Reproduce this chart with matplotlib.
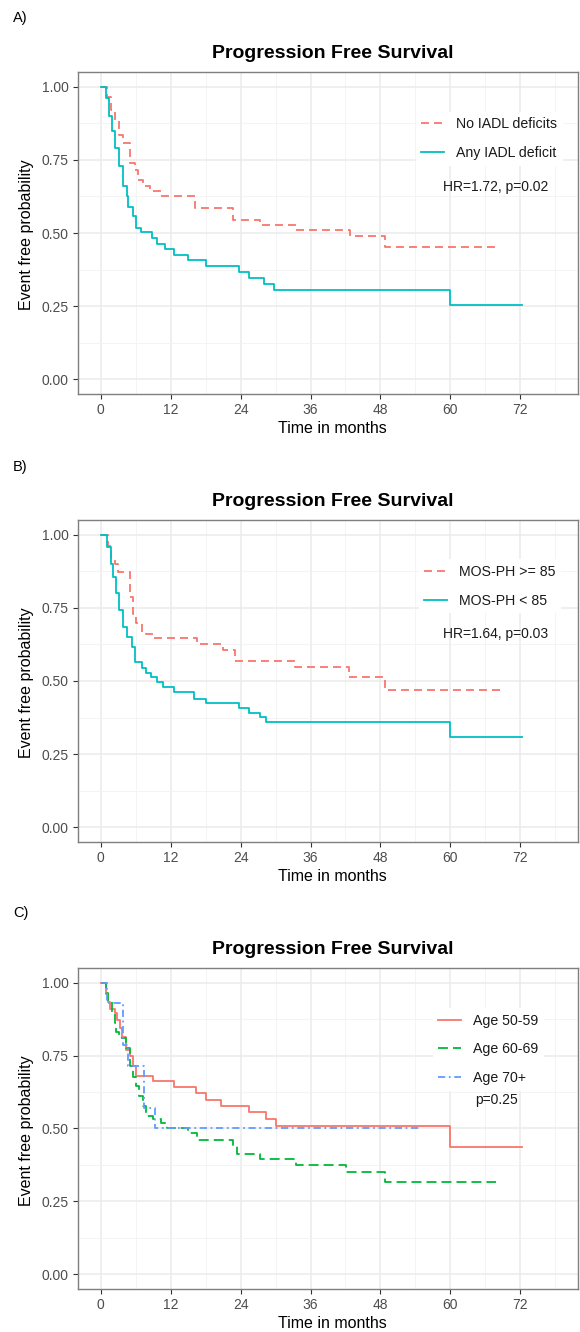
import matplotlib.pyplot as plt
import numpy as np

plt.rcParams['font.family'] = ['Liberation Sans', 'DejaVu Sans']

# ---- data (months, survival prob) ----
# A) IADL
no_iadl_t = [0, 1.0, 1.8, 2.4, 3.2, 3.9, 5.0, 5.8, 6.4, 7.3, 8.4, 10.4, 16.1,
             22.7, 27.3, 33.5, 42.7, 48.7, 68.4]
no_iadl_s = [1.0, 0.966, 0.92, 0.886, 0.835, 0.807, 0.739, 0.716, 0.682, 0.659,
             0.644, 0.625, 0.585, 0.545, 0.528, 0.511, 0.489, 0.451, 0.451]
any_iadl_t = [0, 0.9, 1.4, 2.0, 2.4, 3.15, 3.9, 4.5, 4.7, 5.6, 6.1, 6.9, 8.8,
              9.7, 11.0, 12.5, 15.0, 18.1, 23.8, 25.4, 28.1, 29.8, 60.0, 72.3]
any_iadl_s = [1.0, 0.96, 0.90, 0.85, 0.79, 0.73, 0.66, 0.625, 0.59, 0.557,
              0.518, 0.502, 0.483, 0.464, 0.445, 0.426, 0.407, 0.389, 0.366,
              0.347, 0.327, 0.305, 0.254, 0.254]

# B) MOS-PH
mos_hi_t = [0, 1.2, 1.8, 2.4, 3.0, 5.0, 5.6, 6.1, 7.0, 7.8, 9.2, 16.5, 21.0,
            23.0, 33.3, 42.6, 48.7, 68.7]
mos_hi_s = [1.0, 0.96, 0.92, 0.90, 0.873, 0.787, 0.73, 0.697, 0.668, 0.659,
            0.646, 0.628, 0.607, 0.569, 0.547, 0.515, 0.469, 0.469]
mos_lo_t = [0, 1.0, 1.7, 2.1, 2.6, 3.15, 3.85, 4.5, 5.3, 5.8, 7.0, 7.8, 8.7,
            9.6, 10.7, 12.5, 16.0, 18.1, 23.8, 25.5, 27.4, 28.3, 60.0, 72.3]
mos_lo_s = [1.0, 0.958, 0.90, 0.856, 0.80, 0.742, 0.685, 0.651, 0.617, 0.566,
            0.543, 0.526, 0.512, 0.498, 0.478, 0.464, 0.44, 0.424, 0.408,
            0.392, 0.378, 0.361, 0.31, 0.31]

# C) Age groups
age50_t = [0, 0.9, 1.3, 1.6, 2.4, 2.8, 3.3, 3.7, 4.4, 5.1, 5.5, 6.0, 9.0, 12.5,
           16.4, 18.1, 20.7, 25.4, 28.3, 30.1, 60.0, 72.3]
age50_s = [1.0, 0.962, 0.934, 0.911, 0.894, 0.87, 0.843, 0.815, 0.769, 0.747,
           0.713, 0.68, 0.661, 0.642, 0.622, 0.599, 0.577, 0.555, 0.532,
           0.507, 0.437, 0.437]
age60_t = [0, 0.9, 1.3, 1.9, 2.4, 2.7, 3.2, 4.3, 5.1, 5.6, 6.1, 6.6, 7.2, 7.8,
           9.0, 10.4, 11.3, 15.0, 16.6, 22.7, 23.3, 27.3, 33.5, 42.1, 48.7, 67.8]
age60_s = [1.0, 0.965, 0.94, 0.90, 0.86, 0.83, 0.81, 0.775, 0.7125, 0.678,
           0.644, 0.61, 0.576, 0.542, 0.531, 0.52, 0.5, 0.483, 0.46, 0.44,
           0.413, 0.396, 0.375, 0.352, 0.315, 0.315]
age70_t = [0, 1.1, 3.8, 4.7, 7.4, 9.3, 55.0]
age70_s = [1.0, 0.929, 0.786, 0.714, 0.571, 0.5, 0.5]

RED = '#F8766D'
TEAL = '#00BFC4'
GREEN = '#00BA38'
BLUE = '#619CFF'
LW = 1.3


def style_axes(ax):
    ax.set_xlim(-3.9, 81.9)
    ax.set_ylim(-0.05, 1.05)
    ax.set_xticks(np.arange(0, 73, 12))
    ax.set_xticks(np.arange(6, 80, 12), minor=True)
    ax.set_yticks([0, 0.25, 0.5, 0.75, 1.0])
    ax.set_yticklabels(['0.00', '0.25', '0.50', '0.75', '1.00'])
    ax.set_yticks([0.125, 0.375, 0.625, 0.875], minor=True)
    ax.grid(which='major', color='#EBEBEB', lw=1.1)
    ax.grid(which='minor', color='#F2F2F2', lw=0.6)
    ax.set_axisbelow(True)
    ax.tick_params(which='minor', length=0)
    ax.tick_params(which='major', length=3.6, width=0.8, color='#333333',
                   labelcolor='#4D4D4D', labelsize=10, pad=3)
    for sp in ax.spines.values():
        sp.set_color('#7F7F7F')
        sp.set_linewidth(1.0)
    ax.set_xlabel('Time in months', fontsize=11.5)
    ax.set_ylabel('Event free probability', fontsize=11.5)
    ax.xaxis.set_label_coords(0.508, -0.084)
    ax.yaxis.set_label_coords(-0.088, 0.494)
    ax.text(0.51, 1.059, 'Progression Free Survival', transform=ax.transAxes,
            ha='center', va='center', fontsize=14, fontweight='bold')


def add_legend(ax, x, y):
    leg = ax.legend(loc='upper left', bbox_to_anchor=(x, y), frameon=True,
                    facecolor='white', edgecolor='none', framealpha=1,
                    fancybox=False, fontsize=10.2, handlelength=1.6,
                    handletextpad=0.85, labelspacing=1.03, borderpad=0.4)
    for txt in leg.get_texts():
        txt.set_color('#1A1A1A')


fig = plt.figure(figsize=(5.8, 13.32), dpi=100)
ax_a = fig.add_axes([0.1345, 0.7042, 0.862, 0.2417])
ax_b = fig.add_axes([0.1345, 0.3679, 0.862, 0.2417])
ax_c = fig.add_axes([0.1345, 0.0323, 0.862, 0.2410])

# A
ax_a.step(no_iadl_t, no_iadl_s, where='post', color=RED, lw=LW,
          dashes=(4.4, 2.8), label='No IADL deficits')
ax_a.step(any_iadl_t, any_iadl_s, where='post', color=TEAL, lw=LW,
          label='Any IADL deficit')
style_axes(ax_a)
add_legend(ax_a, 0.661, 0.899)
ax_a.text(0.73, 0.643, 'HR=1.72, p=0.02', transform=ax_a.transAxes,
          ha='left', va='center', fontsize=10, color='#1A1A1A')

# B
ax_b.step(mos_hi_t, mos_hi_s, where='post', color=RED, lw=LW,
          dashes=(4.4, 2.8), label='MOS-PH >= 85')
ax_b.step(mos_lo_t, mos_lo_s, where='post', color=TEAL, lw=LW,
          label='MOS-PH < 85')
style_axes(ax_b)
add_legend(ax_b, 0.667, 0.900)
ax_b.text(0.73, 0.646, 'HR=1.64, p=0.03', transform=ax_b.transAxes,
          ha='left', va='center', fontsize=10, color='#1A1A1A')

# C
ax_c.step(age50_t, age50_s, where='post', color=RED, lw=LW, label='Age 50-59')
ax_c.step(age60_t, age60_s, where='post', color=GREEN, lw=LW,
          dashes=(5.5, 2.8), label='Age 60-69')
ax_c.step(age70_t, age70_s, where='post', color=BLUE, lw=LW,
          dashes=(4, 2, 1, 2), label='Age 70+')
style_axes(ax_c)
add_legend(ax_c, 0.695, 0.897)
ax_c.text(0.794, 0.589, 'p=0.25', transform=ax_c.transAxes,
          ha='left', va='center', fontsize=10, color='#1A1A1A')

fig.text(0.0224, 0.9865, 'A)', fontsize=10.5, va='center')
fig.text(0.0224, 1 - 467 / 1332, 'B)', fontsize=10.5, va='center')
fig.text(0.0224, 1 - 913 / 1332, 'C)', fontsize=10.5, va='center')

fig.savefig('out.png', dpi=100)
